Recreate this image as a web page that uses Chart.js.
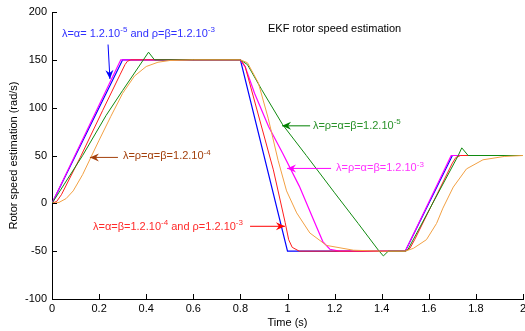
<!DOCTYPE html>
<html>
<head>
<meta charset="utf-8">
<script src="https://cdn.jsdelivr.net/npm/chart.js@4.4.1/dist/chart.umd.min.js"></script>
<style>
  body { margin: 0; background: #fff; }
  canvas { display: block; }
</style>
</head>
<body>
<canvas id="speedChart" width="525" height="331"></canvas>
<script>
// axis ticks
const xTicks = [0, 0.2, 0.4, 0.6, 0.8, 1, 1.2, 1.4, 1.6, 1.8, 2];
const yTicks = [-100, -50, 0, 50, 100, 150, 200];

// blue : lambda=alpha=1.2e-5, rho=beta=1.2e-3
const timeBlue = [0, 0.3, 0.8, 1.0, 1.5, 1.7, 2];
const speedBlue = [0, 150, 150, -50, -50, 50, 50];

// magenta : all 1.2e-3
const timeMagenta = [0, 0.292, 0.8, 0.82, 0.86, 0.92, 0.98, 1.05, 1.11, 1.15, 1.18, 1.22, 1.5, 1.695, 2];
const speedMagenta = [0, 150, 150, 143, 115, 80, 52, 18, -17, -40, -48, -50, -50, 50, 50];

// red : lambda=alpha=beta=1.2e-4, rho=1.2e-3
const timeRed = [0, 0.02, 0.04, 0.12, 0.215, 0.29, 0.31, 0.32, 0.335, 0.8, 0.82, 0.94, 0.99, 1.005, 1.02, 1.05, 1.5, 1.52, 1.54, 1.7, 1.715, 1.735, 2];
const speedRed = [0, 2, 9, 48, 97, 135, 145, 148.5, 150, 150, 143, 35, -20, -38, -46, -50, -50, -47, -38, 42, 48, 50, 50];

// green : all 1.2e-5
const timeGreen = [0, 0.13, 0.23, 0.3, 0.41, 0.435, 0.8, 0.83, 0.89, 0.98, 1.08, 1.2, 1.3, 1.386, 1.407, 1.428, 1.5, 1.51, 1.725, 1.74, 1.767, 2];
const speedGreen = [0, 50, 92, 118, 158, 150, 150, 145, 119, 82, 50, 11, -21, -49, -55, -50, -50, -49, 50, 58, 50, 50];

// orange : all 1.2e-4
const timeOrange = [0, 0.03, 0.06, 0.09, 0.13, 0.165, 0.2, 0.25, 0.3, 0.35, 0.4, 0.45, 0.5, 0.6, 0.8, 0.83, 0.876, 0.918, 0.96, 0.996, 1.039, 1.095, 1.166, 1.28, 1.4, 1.5, 1.535, 1.59, 1.633, 1.66, 1.704, 1.76, 1.83, 1.92, 2];
const speedOrange = [0, 1, 5, 13, 30, 48, 66, 91, 115, 133, 143, 147.5, 149.3, 150, 150, 147, 126, 89, 45, 13, -10, -31, -44, -49, -50, -50, -47, -38, -21, -5, 17, 36, 45.5, 49, 50];

const FONT = "'Liberation Sans', Arial, sans-serif";

// text labels with arrows, in data coordinates
const notes = [
  { parts: [["λ=α= 1.2.10"], ["-5", 1], [" and ρ=β=1.2.10"], ["-3", 1]], color: "#2f2fff", arrow: "#0000ff", at: [0.042, 177], from: [0.238, 166], to: [0.246, 130] },
  { parts: [["λ=ρ=α=β=1.2.10"], ["-4", 1]], color: "#a3400c", arrow: "#a3400c", at: [0.301, 49], from: [0.28, 48], to: [0.161, 48] },
  { parts: [["λ=ρ=α=β=1.2.10"], ["-5", 1]], color: "#2a922a", arrow: "#008000", at: [1.108, 81], from: [1.096, 81], to: [0.977, 81] },
  { parts: [["λ=ρ=α=β=1.2.10"], ["-3", 1]], color: "#ff33ff", arrow: "#ff00ff", at: [1.206, 36.5], from: [1.185, 36.5], to: [0.998, 36.5] },
  { parts: [["λ=α=β=1.2.10"], ["-4", 1], [" and ρ=1.2.10"], ["-3", 1]], color: "#ff2a2a", arrow: "#ff0000", at: [0.174, -25], from: [0.841, -24], to: [0.989, -24] },
  { parts: [["EKF rotor speed estimation"]], color: "#000000", at: [0.917, 182.3] },
];

const toPoints = (ts, vs) => ts.map((t, i) => ({ x: t, y: vs[i] }));

const makeSet = (label, ts, vs, color, width) => ({
  label: label,
  data: toPoints(ts, vs),
  borderColor: color,
  borderWidth: width,
  pointRadius: 0,
  tension: 0,
  fill: false,
});

// inward tick marks, matlab style
const insideTicks = {
  id: "insideTicks",
  afterDraw(chart) {
    const { ctx, chartArea, scales } = chart;
    ctx.save();
    ctx.strokeStyle = "#000";
    ctx.lineWidth = 1;
    ctx.beginPath();
    xTicks.forEach((v) => {
      const px = Math.round(scales.x.getPixelForValue(v)) + 0.5;
      ctx.moveTo(px, chartArea.bottom);
      ctx.lineTo(px, chartArea.bottom - 5);
    });
    yTicks.forEach((v) => {
      const py = Math.round(scales.y.getPixelForValue(v)) + 0.5;
      ctx.moveTo(chartArea.left, py);
      ctx.lineTo(chartArea.left + 5, py);
    });
    ctx.stroke();
    ctx.restore();
  },
};

const drawRich = (ctx, parts, x, y, color) => {
  let cx = x;
  ctx.fillStyle = color;
  ctx.textBaseline = "middle";
  ctx.textAlign = "left";
  parts.forEach((p) => {
    if (p[1]) {
      ctx.font = "8px " + FONT;
      ctx.fillText(p[0], cx, y - 4);
    } else {
      ctx.font = "11px " + FONT;
      ctx.fillText(p[0], cx, y);
    }
    cx += ctx.measureText(p[0]).width;
  });
};

const notesPlugin = {
  id: "notes",
  afterDatasetsDraw(chart) {
    const { ctx, scales } = chart;
    ctx.save();
    notes.forEach((n) => {
      if (n.from) {
        const x1 = scales.x.getPixelForValue(n.from[0]);
        const y1 = scales.y.getPixelForValue(n.from[1]);
        const x2 = scales.x.getPixelForValue(n.to[0]);
        const y2 = scales.y.getPixelForValue(n.to[1]);
        const ang = Math.atan2(y2 - y1, x2 - x1);
        ctx.strokeStyle = n.arrow;
        ctx.fillStyle = n.arrow;
        ctx.lineWidth = 1;
        ctx.beginPath();
        ctx.moveTo(x1, y1);
        ctx.lineTo(x2, y2);
        ctx.stroke();
        // head
        const len = 9, half = 4;
        const bx = x2 - len * Math.cos(ang);
        const by = y2 - len * Math.sin(ang);
        ctx.beginPath();
        ctx.moveTo(x2, y2);
        ctx.lineTo(bx + half * Math.sin(ang), by - half * Math.cos(ang));
        ctx.lineTo(bx + 3 * Math.cos(ang), by + 3 * Math.sin(ang));
        ctx.lineTo(bx - half * Math.sin(ang), by + half * Math.cos(ang));
        ctx.closePath();
        ctx.fill();
      }
      const tx = scales.x.getPixelForValue(n.at[0]);
      const ty = scales.y.getPixelForValue(n.at[1]);
      drawRich(ctx, n.parts, tx, ty, n.color);
    });
    ctx.restore();
  },
};

const data = {
  datasets: [
    makeSet("orange", timeOrange, speedOrange, "#f2a043", 1),
    makeSet("green", timeGreen, speedGreen, "#108a10", 1),
    makeSet("red", timeRed, speedRed, "#ff1e1e", 1),
    makeSet("magenta", timeMagenta, speedMagenta, "#ff00ff", 1.2),
    makeSet("blue", timeBlue, speedBlue, "#0000ff", 1.2),
  ],
};

const config = {
  type: "line",
  data: data,
  options: {
    responsive: false,
    animation: false,
    layout: { padding: { top: 12, right: 2, left: 0, bottom: 0 } },
    plugins: {
      legend: { display: false },
      tooltip: { enabled: false },
    },
    scales: {
      x: {
        type: "linear",
        min: 0,
        max: 2,
        afterBuildTicks: (scale) => { scale.ticks = xTicks.map((v) => ({ value: v })); },
        afterFit: (scale) => {
          scale.height = 32;
          scale.paddingRight = 0;
          scale.paddingLeft = 0;
        },
        ticks: {
          color: "#000",
          padding: 3,
          maxRotation: 0,
          font: { family: FONT, size: 11 },
          callback: (v) => String(Number(v.toFixed(1))),
        },
        grid: { display: true, drawOnChartArea: false, drawTicks: false },
        border: { display: true, color: "#000", width: 1 },
        title: {
          display: true,
          text: "Time (s)",
          color: "#000",
          font: { family: FONT, size: 11 },
          padding: { top: 0, bottom: 1 },
        },
      },
      y: {
        type: "linear",
        min: -100,
        max: 200,
        afterBuildTicks: (scale) => { scale.ticks = yTicks.map((v) => ({ value: v })); },
        afterFit: (scale) => {
          scale.width = 52;
          scale.paddingTop = 0;
          scale.paddingBottom = 0;
        },
        ticks: {
          color: "#000",
          padding: 5,
          font: { family: FONT, size: 11 },
        },
        grid: { display: true, drawOnChartArea: false, drawTicks: false },
        border: { display: true, color: "#000", width: 1 },
        title: {
          display: true,
          text: "Rotor speed estimation (rad/s)",
          color: "#000",
          font: { family: FONT, size: 11 },
          padding: { top: 7, bottom: 0 },
        },
      },
    },
  },
  plugins: [insideTicks, notesPlugin],
};

new Chart(document.getElementById("speedChart"), config);
</script>
</body>
</html>
